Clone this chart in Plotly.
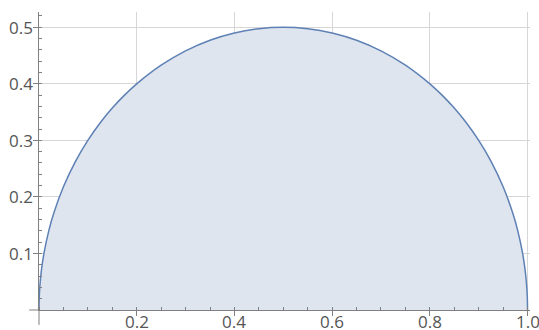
import plotly.graph_objects as go

# Curve samples (x, height), denser near the two ends where the arc is steep
x_vals = [0.0, 0.0005, 0.002, 0.005, 0.01, 0.02, 0.03, 0.05, 0.075, 0.1, 0.125, 0.15, 0.175,
          0.2, 0.25, 0.3, 0.35, 0.4, 0.45, 0.5, 0.55, 0.6, 0.65, 0.7, 0.75, 0.8,
          0.825, 0.85, 0.875, 0.9, 0.925, 0.95, 0.97, 0.98, 0.99, 0.995, 0.998, 0.9995, 1.0]
y_vals = [0.0, 0.0224, 0.0447, 0.0705, 0.0995, 0.14, 0.1706, 0.2179, 0.2634, 0.3, 0.3307, 0.3571, 0.38,
          0.4, 0.433, 0.4583, 0.477, 0.4899, 0.4975, 0.5, 0.4975, 0.4899, 0.477, 0.4583, 0.433, 0.4,
          0.38, 0.3571, 0.3307, 0.3, 0.2634, 0.2179, 0.1706, 0.14, 0.0995, 0.0705, 0.0447, 0.0224, 0.0]

x_ticks = [0.2, 0.4, 0.6, 0.8, 1.0]
x_tick_text = ["0.2", "0.4", "0.6", "0.8", "1.0"]
y_ticks = [0.1, 0.2, 0.3, 0.4, 0.5]
y_tick_text = ["0.1", "0.2", "0.3", "0.4", "0.5"]

line_color = "#5e81b5"
fill_color = "#dfe5ef"
axis_color = "#808080"
grid_color = "#d6d6d6"
label_color = "#555555"

fig = go.Figure()
fig.add_trace(go.Scatter(
    x=x_vals, y=y_vals, mode="lines",
    line=dict(color=line_color, width=1.5, shape="spline", smoothing=0.6),
    fill="tozeroy", fillcolor=fill_color,
    cliponaxis=False, hoverinfo="skip", showlegend=False,
))

axis_font = dict(family="Open Sans, sans-serif", size=17, color=label_color)

fig.update_xaxes(
    range=[0, 1.005], tickvals=x_ticks, showticklabels=False,
    showgrid=True, gridcolor=grid_color, gridwidth=1,
    showline=True, linecolor=axis_color, linewidth=1,
    ticks="outside", ticklen=5, tickcolor=axis_color,
    minor=dict(dtick=0.05, tick0=0, ticks="inside", ticklen=3, tickcolor=axis_color, showgrid=False),
    zeroline=False, automargin=False,
)
fig.update_yaxes(
    range=[0, 0.527], tickvals=y_ticks, showticklabels=False,
    showgrid=True, gridcolor=grid_color, gridwidth=1,
    showline=True, linecolor=axis_color, linewidth=1,
    ticks="outside", ticklen=5, tickcolor=axis_color,
    minor=dict(dtick=0.02, tick0=0, ticks="inside", ticklen=3, tickcolor=axis_color, showgrid=False),
    zeroline=False, automargin=False,
)

# tick labels set tight against the axes
for v, t in zip(x_ticks, x_tick_text):
    fig.add_annotation(x=v, xref="x", y=0, yref="paper", text=t, showarrow=False,
                       xanchor="center", yanchor="top", yshift=2, font=axis_font)
for v, t in zip(y_ticks, y_tick_text):
    fig.add_annotation(x=0, xref="paper", y=v, yref="y", text=t, showarrow=False,
                       xanchor="right", yanchor="middle", xshift=-4, font=axis_font)

# short axis overhangs past the origin
fig.add_shape(type="line", xref="paper", yref="paper", x0=-0.02, x1=0, y0=0, y1=0,
              line=dict(color=axis_color, width=1))
fig.add_shape(type="line", xref="paper", yref="paper", x0=0, x1=0, y0=-0.05, y1=0,
              line=dict(color=axis_color, width=1))

fig.update_layout(
    width=539, height=330,
    margin=dict(l=39, r=9, t=12, b=20),
    plot_bgcolor="white", paper_bgcolor="white",
)

fig.write_html("out.html")
